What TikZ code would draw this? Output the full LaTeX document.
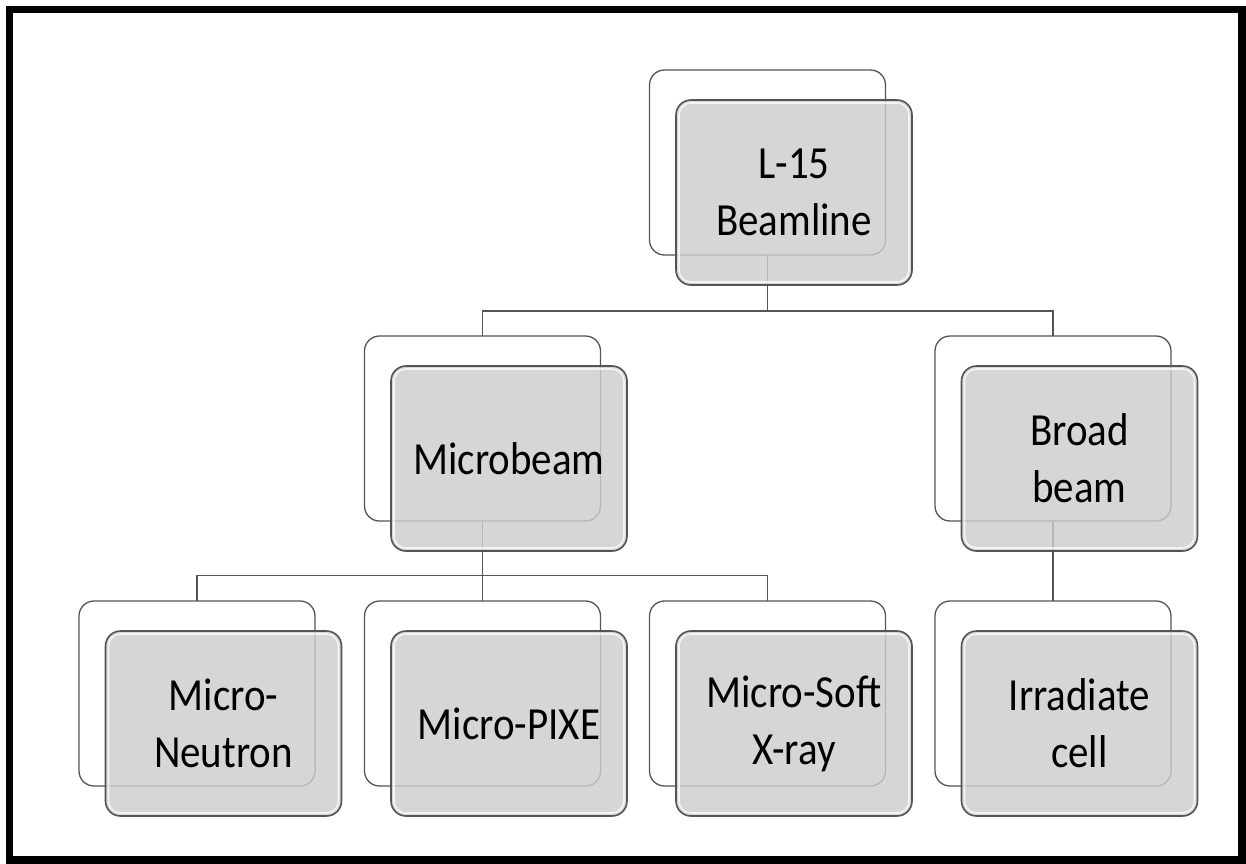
\documentclass[tikz,border=0pt]{standalone}
\usepackage{fontspec}
\setmainfont{Carlito}
\usepackage{graphicx}
\newcommand\sq[1]{\scalebox{0.89}[1]{#1}}
\definecolor{boxfill}{HTML}{CDCDCD}
\definecolor{edgegray}{HTML}{555555}
\begin{document}
\begin{tikzpicture}[x=1pt,y=-1pt,
  backbox/.style={draw=edgegray, line width=1.3pt, fill=white, rounded corners=15pt,
    minimum width=236pt, minimum height=185pt, inner sep=0pt, outer sep=0pt},
  frontbox/.style={draw=edgegray, line width=1.6pt, fill=boxfill, fill opacity=0.82,
    text opacity=1, rounded corners=15pt, minimum width=236pt, minimum height=185pt,
    inner sep=0pt, outer sep=0pt, align=center, text=black,
    font=\fontsize{46}{57}\selectfont},
  link/.style={draw=edgegray, line width=1.4pt},
  bevel/.style={draw=white, line width=1.6pt, draw opacity=0.75, rounded corners=12pt}
]
\useasboundingbox (0,0) rectangle (1246,863);
\fill[white] (0,0) rectangle (1246,863);
\draw[line width=7.5pt, black] (9.5,9.5) rectangle (1242,860);

% back boxes
\node[backbox] (tb)  at (767.5,162.5) {};
\node[backbox] (mbb) at (482.5,428.5) {};
\node[backbox] (bbb) at (1053,428.5) {};
\node[backbox] (nb)  at (197,693.5) {};
\node[backbox] (pb)  at (482.5,693.5) {};
\node[backbox] (sb)  at (767.5,693.5) {};
\node[backbox] (ib)  at (1053,693.5) {};

% connectors
\coordinate (j1) at (767.5,311);
\coordinate (j2) at (482.5,575.5);
\draw[link] (tb.south) -- (tb.south |- j1) -| (mbb.north);
\draw[link] (tb.south |- j1) -| (bbb.north);
\draw[link] (mbb.south) -- (mbb.south |- j2) -| (nb.north);
\draw[link] (mbb.south |- j2) -| (sb.north);
\draw[link] (mbb.south |- j2) -- (pb.north);
\draw[link] (bbb.south) -- (ib.north);

% front boxes
\node[frontbox] (t)  at (794,192.5) {\sq{L-15}\\\sq{Beamline}};
\node[frontbox] (mb) at (509,458.5) {\sq{Microbeam}};
\node[frontbox] (bb) at (1079.5,458.5) {\sq{Broad}\\\sq{beam}};
\node[frontbox] (n)  at (223.5,723.5) {\sq{Micro-}\\\sq{Neutron}};
\node[frontbox] (p)  at (509,723.5) {\sq{Micro-PIXE}};
\node[frontbox] (s)  at (794,723.5) {\sq{Micro-Soft}\\\sq{X-ray}};
\node[frontbox] (i)  at (1079.5,723.5) {\sq{Irradiate}\\\sq{cell}};

% bevel highlights
\foreach \f in {t,mb,bb,n,p,s,i}{
  \draw[bevel] ([shift={(3pt,3pt)}]\f.south west) rectangle ([shift={(-3pt,-3pt)}]\f.north east);
}
\end{tikzpicture}
\end{document}
